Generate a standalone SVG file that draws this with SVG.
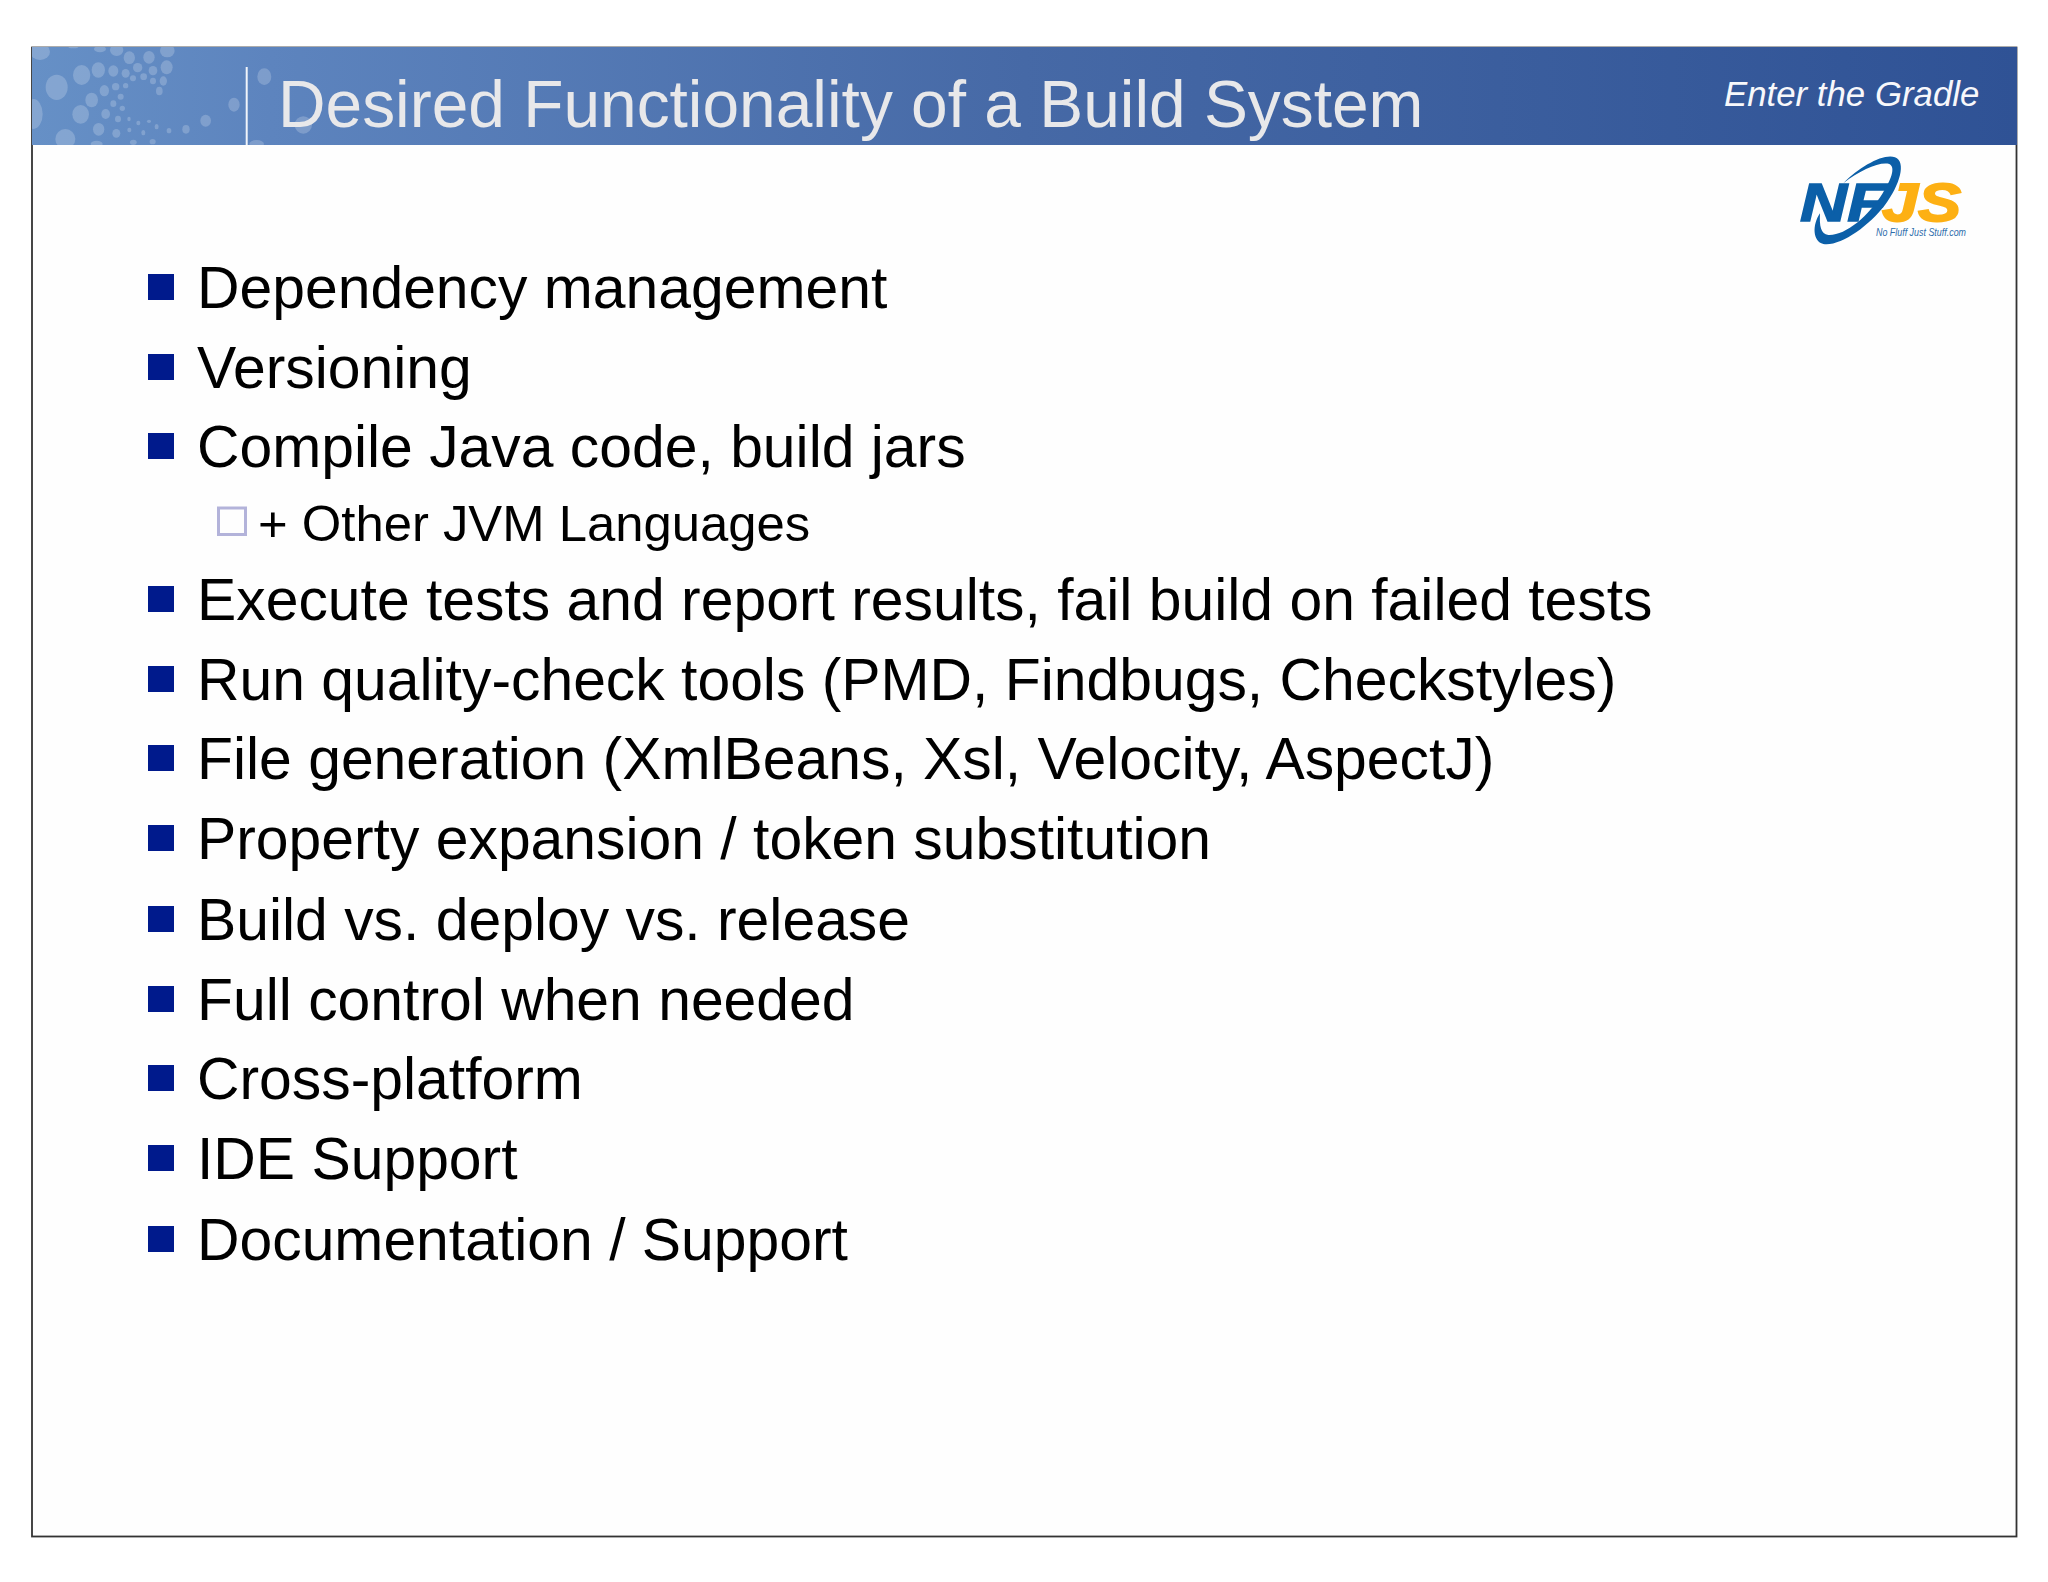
<svg xmlns="http://www.w3.org/2000/svg" width="2048" height="1582" viewBox="0 0 2048 1582">
<style>
text{font-family:"Liberation Sans",Arial,sans-serif}
.b{fill:#001a8c}
.t{font-size:58.85px;fill:#000}
.s{font-size:50.800px;fill:#000}
.d{fill:#fff;fill-opacity:.2}
</style>
<defs>
<linearGradient id="hg" x1="0" x2="1" y1="0" y2="0">
<stop offset="0" stop-color="#6690c6"/>
<stop offset=".12" stop-color="#5d84be"/>
<stop offset=".5" stop-color="#4669a6"/>
<stop offset="1" stop-color="#2f5295"/>
</linearGradient>
<filter id="soft" x="-5%" y="-5%" width="110%" height="110%"><feGaussianBlur stdDeviation="0.700"/></filter>
<clipPath id="hc"><rect x="32" y="47" width="1985" height="98"/></clipPath>
</defs>
<rect width="2048" height="1582" fill="#fff"/>
<g id="frame"><rect x="32" y="47.500" width="1984.500" height="1489" fill="#fefefe" stroke="#333" stroke-width="1.800"/></g>
<g id="header">
<rect x="32" y="47" width="1985" height="98" fill="url(#hg)"/>
<g clip-path="url(#hc)"><g filter="url(#soft)"><g transform="translate(30,45) scale(.3333)">
<ellipse class="d" cx="80" cy="127" rx="33" ry="38"/><ellipse class="d" cx="155" cy="90" rx="26" ry="30"/><ellipse class="d" cx="205" cy="75" rx="20" ry="23"/><ellipse class="d" cx="250" cy="78" rx="15" ry="17"/><ellipse class="d" cx="287" cy="85" rx="12" ry="13"/><ellipse class="d" cx="323" cy="68" rx="14" ry="14"/><ellipse class="d" cx="298" cy="38" rx="17" ry="19"/><ellipse class="d" cx="357" cy="37" rx="17" ry="19"/><ellipse class="d" cx="412" cy="17" rx="22" ry="20"/><ellipse class="d" cx="260" cy="15" rx="20" ry="18"/><ellipse class="d" cx="210" cy="12" rx="18" ry="10"/><ellipse class="d" cx="369" cy="77" rx="13" ry="14"/><ellipse class="d" cx="410" cy="67" rx="18" ry="21"/><ellipse class="d" cx="309" cy="100" rx="9" ry="9"/><ellipse class="d" cx="341" cy="95" rx="10" ry="10"/><ellipse class="d" cx="369" cy="108" rx="9" ry="10"/><ellipse class="d" cx="400" cy="108" rx="11" ry="14"/><ellipse class="d" cx="388" cy="138" rx="10" ry="13"/><ellipse class="d" cx="257" cy="125" rx="11" ry="11"/><ellipse class="d" cx="287" cy="122" rx="8" ry="8"/><ellipse class="d" cx="223" cy="137" rx="14" ry="17"/><ellipse class="d" cx="185" cy="165" rx="19" ry="22"/><ellipse class="d" cx="272" cy="155" rx="9" ry="9"/><ellipse class="d" cx="250" cy="176" rx="9" ry="10"/><ellipse class="d" cx="277" cy="190" rx="8" ry="8"/><ellipse class="d" cx="152" cy="208" rx="25" ry="28"/><ellipse class="d" cx="227" cy="207" rx="13" ry="15"/><ellipse class="d" cx="264" cy="222" rx="9" ry="10"/><ellipse class="d" cx="297" cy="222" rx="5" ry="7"/><ellipse class="d" cx="325" cy="234" rx="6" ry="7"/><ellipse class="d" cx="357" cy="229" rx="6" ry="5"/><ellipse class="d" cx="380" cy="245" rx="6" ry="8"/><ellipse class="d" cx="417" cy="257" rx="7" ry="8"/><ellipse class="d" cx="468" cy="253" rx="11" ry="13"/><ellipse class="d" cx="527" cy="227" rx="16" ry="18"/><ellipse class="d" cx="612" cy="179" rx="17" ry="21"/><ellipse class="d" cx="703" cy="95" rx="21" ry="25"/><ellipse class="d" cx="206" cy="253" rx="17" ry="19"/><ellipse class="d" cx="259" cy="265" rx="12" ry="13"/><ellipse class="d" cx="298" cy="255" rx="6" ry="7"/><ellipse class="d" cx="340" cy="263" rx="6" ry="8"/><ellipse class="d" cx="106" cy="282" rx="30" ry="30"/><ellipse class="d" cx="10" cy="207" rx="28" ry="45"/><ellipse class="d" cx="30" cy="20" rx="30" ry="25"/><ellipse class="d" cx="200" cy="297" rx="18" ry="10"/><ellipse class="d" cx="310" cy="292" rx="10" ry="8"/><ellipse class="d" cx="368" cy="290" rx="9" ry="8"/><ellipse class="d" cx="680" cy="297" rx="22" ry="12"/><ellipse class="d" cx="130" cy="5" rx="15" ry="5"/><ellipse class="d" cx="820" cy="240" rx="26" ry="26"/>
</g></g></g>
<line x1="246.700" y1="67" x2="246.700" y2="145" stroke="#f0f4fa" stroke-width="2"/>
<text x="278" y="127" font-size="65.850" fill="#e8e8ea" id="title">Desired Functionality of a Build System</text>
<text x="1724" y="106" font-size="34.800" font-style="italic" fill="#f8f8fb" id="tag">Enter the Gradle</text>
</g>
<g id="logo">
<text x="1800" y="220.700" font-size="54" font-weight="bold" font-style="italic" fill="#0b5fa8" stroke="#0b5fa8" stroke-width="1.500" textLength="87" lengthAdjust="spacingAndGlyphs">NF</text>
<text x="1882" y="220.700" font-size="54" font-weight="bold" font-style="italic" fill="#fdb014" stroke="#fdb014" stroke-width="1.800" textLength="79" lengthAdjust="spacingAndGlyphs">JS</text>
<path transform="translate(1790,150) scale(.3333)" fill="#0b5fa8" d="M160 100C210 50 280 10 315 22C350 35 330 105 285 165C235 230 150 290 100 282C68 275 66 225 90 190C88 228 92 252 115 255C165 258 235 200 278 130C303 90 318 52 298 42C270 34 210 60 160 100Z"/>
<text x="1876" y="236" font-size="10" font-style="italic" fill="#2d6cab" textLength="90" lengthAdjust="spacingAndGlyphs">No Fluff Just Stuff.com</text>
</g>
<g id="bullets">
<rect class="b" x="148" y="274" width="26" height="26"/><text class="t" x="197" y="307.500">Dependency management</text>
<rect class="b" x="148" y="354" width="26" height="26"/><text class="t" x="197" y="387.500">Versioning</text>
<rect class="b" x="148" y="433" width="26" height="26"/><text class="t" x="197" y="466.500">Compile Java code, build jars</text>
<rect x="218.500" y="508" width="27" height="26.500" fill="none" stroke="#b3b3da" stroke-width="3"/><text class="s" x="258" y="540.500">+ Other JVM Languages</text>
<rect class="b" x="148" y="586" width="26" height="26"/><text class="t" x="197" y="619.500">Execute tests and report results, fail build on failed tests</text>
<rect class="b" x="148" y="666" width="26" height="26"/><text class="t" x="197" y="699.500">Run quality-check tools (PMD, Findbugs, Checkstyles)</text>
<rect class="b" x="148" y="745" width="26" height="26"/><text class="t" x="197" y="778.500">File generation (XmlBeans, Xsl, Velocity, AspectJ)</text>
<rect class="b" x="148" y="825" width="26" height="26"/><text class="t" x="197" y="858.500">Property expansion / token substitution</text>
<rect class="b" x="148" y="906" width="26" height="26"/><text class="t" x="197" y="939.500">Build vs. deploy vs. release</text>
<rect class="b" x="148" y="986" width="26" height="26"/><text class="t" x="197" y="1019.500">Full control when needed</text>
<rect class="b" x="148" y="1065" width="26" height="26"/><text class="t" x="197" y="1098.500">Cross-platform</text>
<rect class="b" x="148" y="1145" width="26" height="26"/><text class="t" x="197" y="1178.500">IDE Support</text>
<rect class="b" x="148" y="1226" width="26" height="26"/><text class="t" x="197" y="1259.500">Documentation / Support</text>
</g>
</svg>
